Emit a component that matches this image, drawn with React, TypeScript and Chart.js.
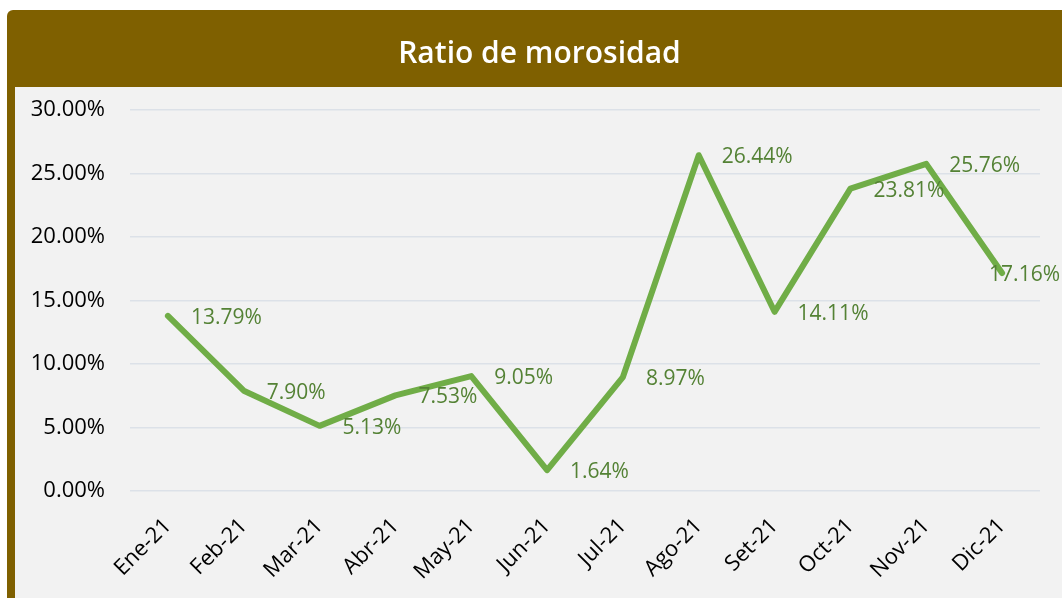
import React, { useEffect, useRef } from "react";
import { Chart, registerables } from "chart.js";

Chart.register(...registerables);

const categories = ["Ene-21", "Feb-21", "Mar-21", "Abr-21", "May-21", "Jun-21", "Jul-21", "Ago-21", "Set-21", "Oct-21", "Nov-21", "Dic-21"];
const ratioValues = [13.79, 7.9, 5.13, 7.53, 9.05, 1.64, 8.97, 26.44, 14.11, 23.81, 25.76, 17.16];
const yTicks = [0, 5, 10, 15, 20, 25, 30];
const titleText = "Ratio de morosidad";

const FONT = "'Open Sans', 'Noto Sans', sans-serif";

const labelPlugin = {
  id: "pointLabels",
  afterDatasetsDraw(chart: any) {
    const ctx = chart.ctx;
    const meta = chart.getDatasetMeta(0);
    const data = chart.data.datasets[0].data as number[];
    ctx.save();
    ctx.font = `21px ${FONT}`;
    ctx.fillStyle = "#548235";
    ctx.textBaseline = "middle";
    ctx.textAlign = "left";
    meta.data.forEach((pt: any, i: number) => {
      const text = data[i].toFixed(2) + "%";
      const w = ctx.measureText(text).width;
      let x = pt.x + 23;
      if (x + w > chart.width - 2) x = chart.width - 2 - w;
      ctx.fillText(text, x, pt.y + 2);
    });
    ctx.restore();
  },
};

export default function App() {
  const ref = useRef<HTMLCanvasElement>(null);
  useEffect(() => {
    if (!ref.current) return;
    const chart = new Chart(ref.current, {
      type: "line",
      data: {
        labels: categories,
        datasets: [
          {
            data: ratioValues,
            borderColor: "#70AD47",
            borderWidth: 6,
            pointRadius: 0,
            tension: 0,
            fill: false,
            borderJoinStyle: "round",
            borderCapStyle: "round",
          },
        ],
      },
      options: {
        animation: false,
        responsive: false,
        maintainAspectRatio: false,
        layout: { padding: { top: 23, right: 22, left: 0, bottom: 0 } },
        plugins: { legend: { display: false }, tooltip: { enabled: false }, title: { display: false } },
        scales: {
          x: {
            offset: true,
            grid: { display: false },
            border: { display: false },
            ticks: {
              color: "#000",
              font: { family: FONT, size: 22 },
              minRotation: 45,
              maxRotation: 45,
              padding: 14,
            },
            afterFit: (s: any) => {
              s.height = 107;
            },
          },
          y: {
            min: 0,
            max: 30,
            afterBuildTicks: (s: any) => {
              s.ticks = yTicks.map((v) => ({ value: v }));
            },
            grid: { color: "#DCE1E8", lineWidth: 1.5, drawTicks: true, tickLength: 18, tickColor: "rgba(0,0,0,0)" },
            border: { display: false },
            ticks: {
              color: "#000",
              font: { family: FONT, size: 22 },
              padding: 7,
              callback: (v: any) => Number(v).toFixed(2) + "%",
            },
            afterFit: (s: any) => {
              s.width = 115;
            },
          },
        },
      },
      plugins: [labelPlugin],
    });
    return () => chart.destroy();
  }, []);

  return (
    <div
      style={{
        position: "fixed",
        left: 7,
        top: 10,
        width: 1055,
        height: 588,
        background: "#7F6000",
        borderTopLeftRadius: 6,
        overflow: "hidden",
      }}
    >
      <div
        style={{
          height: 77,
          lineHeight: "84px",
          textAlign: "center",
          paddingLeft: 10,
          color: "#fff",
          fontFamily: FONT,
          fontWeight: 600,
          fontSize: 30,
        }}
      >
        {titleText}
      </div>
      <div style={{ position: "absolute", left: 8, top: 77, width: 1047, height: 511, background: "#F2F2F2" }}>
        <canvas ref={ref} width={1047} height={511} style={{ display: "block" }} />
      </div>
    </div>
  );
}
